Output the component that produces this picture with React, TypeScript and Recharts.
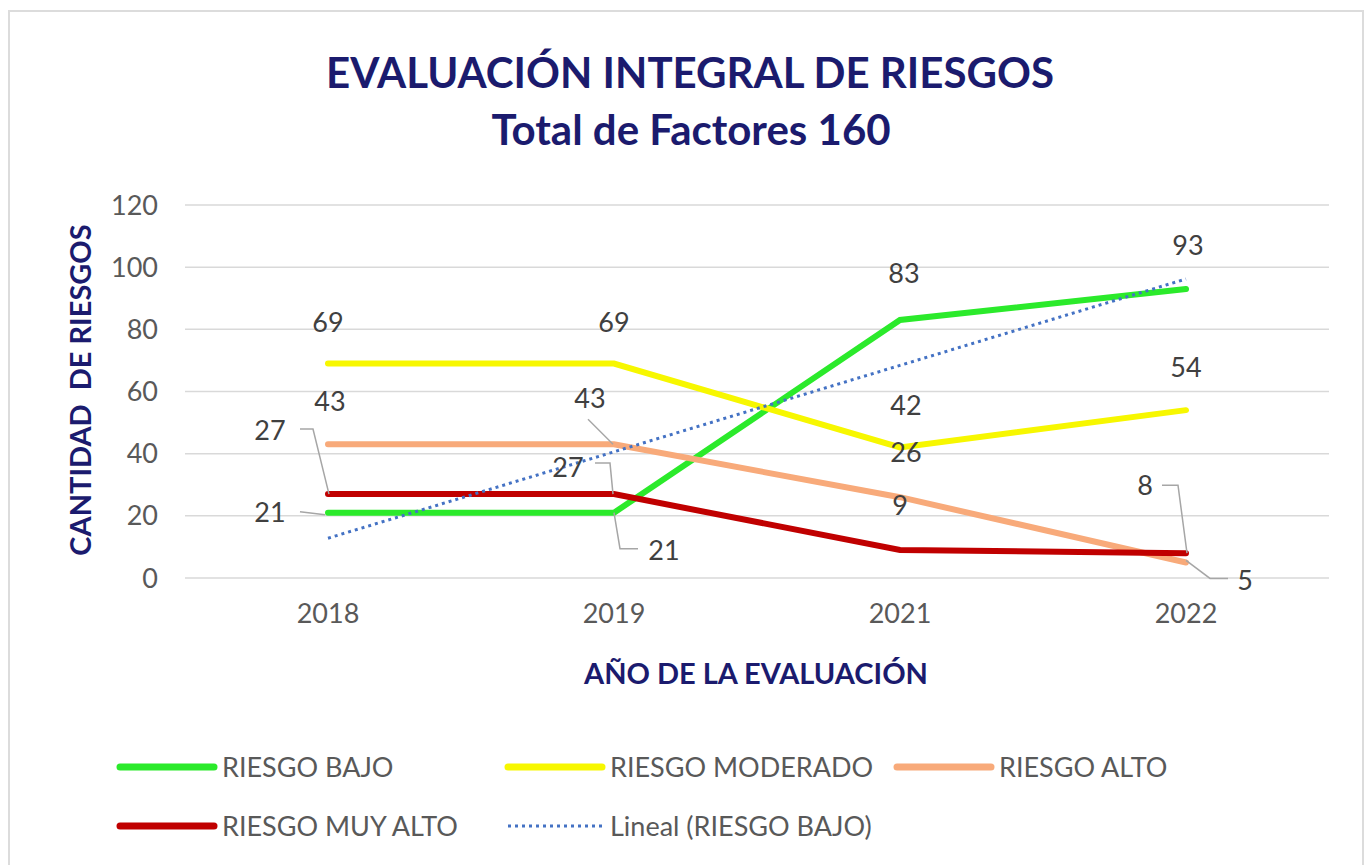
import React from 'react';
import { LineChart, Line, XAxis, YAxis, CartesianGrid, LabelList } from 'recharts';

const years = ['2018', '2019', '2021', '2022'];
const riesgoBajo = [21, 21, 83, 93];
const riesgoModerado = [69, 69, 42, 54];
const riesgoAlto = [43, 43, 26, 5];
const riesgoMuyAlto = [27, 27, 9, 8];
const linealBajo = [12.8, 40.6, 68.4, 96.2];
const yTicks = [0, 20, 40, 60, 80, 100, 120];

const data = years.map((year, i) => ({
  year,
  bajo: riesgoBajo[i],
  moderado: riesgoModerado[i],
  alto: riesgoAlto[i],
  muyAlto: riesgoMuyAlto[i],
  lineal: linealBajo[i],
}));

const FONT = 'Lato, "Open Sans", sans-serif';
const NAVY = '#1b1b6e';
const LEADER = '#a6a6a6';

type LabelSpec = { dx: number; dy: number; leader?: [number, number][] };

// label placement relative to each point (Excel moved some of them by hand)
const bajoLabels: LabelSpec[] = [
  { dx: -58, dy: 0, leader: [[-28, -1], [-3, 2]] },
  { dx: 50, dy: 38, leader: [[0, 0], [6, 36], [24, 36]] },
  { dx: 4, dy: -47 },
  { dx: 2, dy: -44 },
];
const moderadoLabels: LabelSpec[] = [
  { dx: 0, dy: -41 },
  { dx: 0, dy: -41 },
  { dx: 6, dy: -42 },
  { dx: 0, dy: -43 },
];
const altoLabels: LabelSpec[] = [
  { dx: 2, dy: -43 },
  { dx: -24, dy: -46, leader: [[-26, -25], [-1, 0]] },
  { dx: 6, dy: -45 },
  { dx: 59, dy: 18, leader: [[0, -2], [24, 16], [42, 16]] },
];
const muyAltoLabels: LabelSpec[] = [
  { dx: -58, dy: -64, leader: [[-28, -65], [-15, -65], [1, 0]] },
  { dx: -46, dy: -27, leader: [[-19, -31], [-4, -31], [-1, 0]] },
  { dx: 0, dy: -45 },
  { dx: -41, dy: -68, leader: [[-24, -68], [-8, -68], [1, 0]] },
];

const makeLabel = (specs: LabelSpec[]) => (props: any) => {
  const { x, y, value, index } = props;
  const s = specs[index];
  if (!s) return null;
  return (
    <g>
      {s.leader && (
        <polyline
          points={s.leader.map(([a, b]) => `${x + a},${y + b}`).join(' ')}
          fill="none"
          stroke={LEADER}
          strokeWidth={1.5}
        />
      )}
      <text
        x={x + s.dx}
        y={y + s.dy}
        dy="0.36em"
        textAnchor="middle"
        fontFamily={FONT}
        fontSize={27}
        fill="#404040"
      >
        {value}
      </text>
    </g>
  );
};

const legendItems = [
  { name: 'RIESGO BAJO', color: '#2bea2b', x: 120, row: 0 },
  { name: 'RIESGO MODERADO', color: '#f7f700', x: 508, row: 0 },
  { name: 'RIESGO ALTO', color: '#f8aa7a', x: 897, row: 0 },
  { name: 'RIESGO MUY ALTO', color: '#c00000', x: 120, row: 1 },
  { name: 'Lineal (RIESGO BAJO)', color: '#4472c4', x: 508, row: 1, dotted: true },
];

function Overlay() {
  return (
    <svg
      width={1367}
      height={865}
      style={{ position: 'absolute', left: 0, top: 0, pointerEvents: 'none' }}
    >
      <text x={690} y={88} textAnchor="middle" fontFamily={FONT} fontWeight={700} fontSize={42} fill={NAVY}>
        EVALUACIÓN INTEGRAL DE RIESGOS
      </text>
      <text x={691} y={145} textAnchor="middle" fontFamily={FONT} fontWeight={700} fontSize={42} fill={NAVY}>
        Total de Factores 160
      </text>
      <text
        transform="translate(91 390) rotate(-90)"
        textAnchor="middle"
        fontFamily={FONT}
        fontWeight={700}
        fontSize={29}
        fill={NAVY}
        style={{ whiteSpace: 'pre' }}
      >
        {'CANTIDAD  DE RIESGOS'}
      </text>
      <text x={756} y={684} textAnchor="middle" fontFamily={FONT} fontWeight={700} fontSize={29} fill={NAVY}>
        AÑO DE LA EVALUACIÓN
      </text>
      {legendItems.map((it) => {
        const cy = it.row === 0 ? 767 : 826;
        return (
          <g key={it.name}>
            <line
              x1={it.x}
              x2={it.x + 94}
              y1={cy}
              y2={cy}
              stroke={it.color}
              strokeWidth={it.dotted ? 3 : 7}
              strokeLinecap={it.dotted ? 'butt' : 'round'}
              strokeDasharray={it.dotted ? '3 4' : undefined}
            />
            <text x={it.x + 102} y={cy} dy="0.36em" fontFamily={FONT} fontSize={27} fill="#595959">
              {it.name}
            </text>
          </g>
        );
      })}
    </svg>
  );
}

export default function App() {
  return (
    <div
      style={{
        position: 'fixed',
        left: 0,
        top: 0,
        width: 1367,
        height: 865,
        overflow: 'hidden',
        background: '#ffffff',
      }}
    >
      <div
        style={{
          position: 'absolute',
          left: 8,
          top: 10,
          width: 1356,
          height: 900,
          border: '2px solid #dcdcdc',
          boxSizing: 'border-box',
        }}
      />
      <div style={{ position: 'absolute', left: 0, top: 0 }}>
        <LineChart width={1367} height={865} data={data} margin={{ top: 205, right: 38, bottom: 257, left: 0 }}>
          <CartesianGrid vertical={false} stroke="#d9d9d9" strokeWidth={1.5} />
          <XAxis
            dataKey="year"
            axisLine={false}
            tickLine={false}
            tickSize={0}
            tickMargin={26}
            height={30}
            padding={{ left: 143, right: 143 }}
            tick={{ fontFamily: FONT, fontSize: 27, fill: '#595959' }}
          />
          <YAxis
            domain={[0, 120]}
            ticks={yTicks}
            axisLine={false}
            tickLine={false}
            tickSize={0}
            tickMargin={27}
            width={185}
            tick={{ fontFamily: FONT, fontSize: 27, fill: '#595959' }}
          />
          <Line dataKey="bajo" stroke="#2bea2b" strokeWidth={6} dot={false} isAnimationActive={false} strokeLinecap="round">
            <LabelList dataKey="bajo" content={makeLabel(bajoLabels)} />
          </Line>
          <Line dataKey="moderado" stroke="#f7f700" strokeWidth={6} dot={false} isAnimationActive={false} strokeLinecap="round">
            <LabelList dataKey="moderado" content={makeLabel(moderadoLabels)} />
          </Line>
          <Line dataKey="alto" stroke="#f8aa7a" strokeWidth={6} dot={false} isAnimationActive={false} strokeLinecap="round">
            <LabelList dataKey="alto" content={makeLabel(altoLabels)} />
          </Line>
          <Line dataKey="muyAlto" stroke="#c00000" strokeWidth={6} dot={false} isAnimationActive={false} strokeLinecap="round">
            <LabelList dataKey="muyAlto" content={makeLabel(muyAltoLabels)} />
          </Line>
          <Line
            dataKey="lineal"
            stroke="#4472c4"
            strokeWidth={3}
            strokeDasharray="3 4"
            dot={false}
            isAnimationActive={false}
          />
        </LineChart>
      </div>
      <Overlay />
    </div>
  );
}
